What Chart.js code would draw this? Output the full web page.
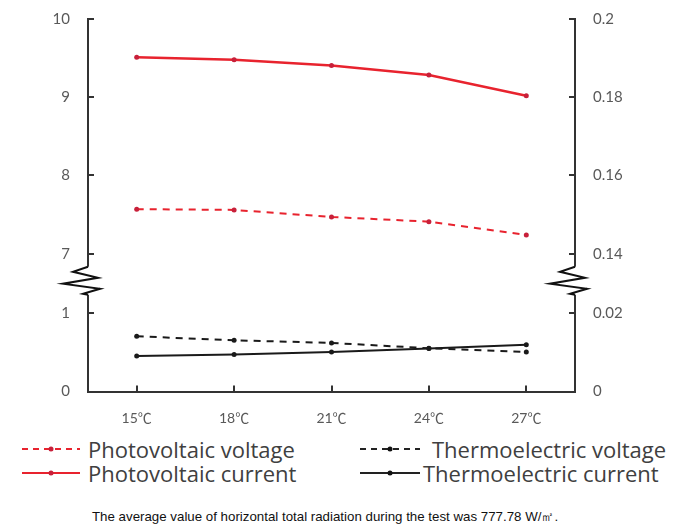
<!DOCTYPE html>
<html>
<head>
<meta charset="utf-8">
<script src="https://cdn.jsdelivr.net/npm/chart.js@4.4.0/dist/chart.umd.min.js"></script>
<style>
    body { margin: 0; background: #fff; }
    #wrap { position: relative; width: 678px; height: 525px; }
    #box { position: absolute; left: 0; top: 0; width: 678px; height: 430px; }
    .leg { position: absolute; font-family: "Open Sans", Lato, sans-serif; font-size: 22px; color: #404040; white-space: nowrap; line-height: 24px; }
    .leg svg { position: absolute; top: 7px; }
    #note { position: absolute; left: 92px; top: 508px; font-family: "Liberation Sans Narrow", "Liberation Sans", sans-serif; font-size: 13.3px; color: #111; white-space: nowrap; }
</style>
</head>
<body>
<div id="wrap">
    <div id="box"><canvas id="chart"></canvas></div>

    <div class="leg" style="left:22px; top:437px;">
        <svg width="60" height="10" style="left:0"><line x1="0" y1="5" x2="58" y2="5" stroke="#e8232e" stroke-width="2" stroke-dasharray="6 5"/><circle cx="29" cy="5" r="2.5" fill="#c8203a"/></svg>
        <span style="position:absolute; left:66px;">Photovoltaic voltage</span>
    </div>
    <div class="leg" style="left:22px; top:461px;">
        <svg width="60" height="10" style="left:0"><line x1="0" y1="5" x2="58" y2="5" stroke="#e8232e" stroke-width="2"/><circle cx="29" cy="5" r="2.5" fill="#c8203a"/></svg>
        <span style="position:absolute; left:66px;">Photovoltaic current</span>
    </div>
    <div class="leg" style="left:360px; top:437px;">
        <svg width="60" height="10" style="left:0"><line x1="0" y1="5" x2="60" y2="5" stroke="#222" stroke-width="2" stroke-dasharray="6 5"/><circle cx="30" cy="5" r="2.5" fill="#111"/></svg>
        <span style="position:absolute; left:72px;">Thermoelectric voltage</span>
    </div>
    <div class="leg" style="left:360px; top:461px;">
        <svg width="60" height="10" style="left:0"><line x1="0" y1="5" x2="60" y2="5" stroke="#222" stroke-width="2"/><circle cx="30" cy="5" r="2.5" fill="#111"/></svg>
        <span style="position:absolute; left:63px;">Thermoelectric current</span>
    </div>

    <div id="note">The average value of horizontal total radiation during the test was 777.78 W/㎡.</div>
</div>

<script>
const temps = ['15℃', '18℃', '21℃', '24℃', '27℃'];

// left axis (voltage)
const pvVoltage = [7.57, 7.56, 7.47, 7.41, 7.24];
const teVoltage = [0.707, 0.656, 0.622, 0.554, 0.507];

// right axis (current)
const pvCurrent = [0.1902, 0.1896, 0.1881, 0.1857, 0.1804];
const teCurrent = [0.0091, 0.0095, 0.0101, 0.0110, 0.0120];

// axis ranges, upper and lower part of the broken axis
const leftTop = [7, 10, 1];
const leftBottom = [0, 1, 1];
const rightTop = [0.14, 0.2, 0.02];
const rightBottom = [0, 0.02, 0.02];

const red = '#e8232e';
const redPoint = '#c8203a';
const black = '#1a1a1a';
const axisColor = '#333';
const tickFont = { family: 'Lato, "Open Sans", "Noto Sans CJK SC", sans-serif', size: 15 };

function partAxis(pos, range, weight) {
    return {
        type: 'linear',
        position: pos,
        stack: pos,
        stackWeight: weight,
        min: range[0],
        max: range[1],
        grid: { display: false },
        border: { display: true, color: axisColor, width: 2 },
        ticks: {
            stepSize: range[2],
            color: '#595959',
            font: tickFont,
            padding: 10,
            callback: function (v) { return String(Number(v.toFixed(3))); }
        },
        afterFit: function (s) { s.width = pos == 'left' ? 88 : 103; }
    };
}

function gapAxis(pos) {
    return {
        type: 'linear',
        position: pos,
        stack: pos,
        stackWeight: 60,
        grid: { display: false },
        border: { display: true, color: axisColor, width: 2 },
        ticks: { display: false },
        afterFit: function (s) { s.width = pos == 'left' ? 88 : 103; }
    };
}

const decor = {
    id: 'decor',
    afterDraw(chart) {
        const ctx = chart.ctx;
        const area = chart.chartArea;
        ctx.save();
        ctx.strokeStyle = axisColor;
        ctx.lineWidth = 2;

        // inner tick marks
        ['yLT', 'yLB', 'yRT', 'yRB'].forEach(function (id) {
            const s = chart.scales[id];
            const left = s.position == 'left';
            const x0 = left ? area.left : area.right;
            const x1 = left ? x0 + 6 : x0 - 6;
            s.ticks.forEach(function (t) {
                const y = Math.round(s.getPixelForValue(t.value));
                ctx.beginPath();
                ctx.moveTo(x0, y);
                ctx.lineTo(x1, y);
                ctx.stroke();
            });
        });
        const xs = chart.scales.x;
        temps.forEach(function (t, i) {
            const x = Math.round(xs.getPixelForValue(i));
            ctx.beginPath();
            ctx.moveTo(x, area.bottom);
            ctx.lineTo(x, area.bottom - 6);
            ctx.stroke();
        });

        // axis break marks
        const zig = [[0, 0], [-15, 5], [10, 11], [-25, 17], [12, 22], [-5, 27], [0, 28]];
        ['yLG', 'yRG'].forEach(function (id) {
            const s = chart.scales[id];
            const x = s.position == 'left' ? area.left : area.right;
            const y = s.top + 13;
            ctx.fillStyle = '#fff';
            ctx.fillRect(x - 3, y, 6, 28);
            ctx.beginPath();
            zig.forEach(function (p, k) {
                if (k == 0) ctx.moveTo(x + p[0], y + p[1]);
                else ctx.lineTo(x + p[0], y + p[1]);
            });
            ctx.strokeStyle = '#111';
            ctx.lineWidth = 2;
            ctx.stroke();
        });
        ctx.restore();
    }
};

new Chart(document.getElementById('chart'), {
    type: 'line',
    data: {
        labels: temps,
        datasets: [
            {
                label: 'Photovoltaic voltage',
                data: pvVoltage,
                yAxisID: 'yLT',
                borderColor: red,
                borderWidth: 2,
                borderDash: [7, 6],
                pointRadius: 2.5,
                pointBackgroundColor: redPoint,
                pointBorderWidth: 0
            },
            {
                label: 'Photovoltaic current',
                data: pvCurrent,
                yAxisID: 'yRT',
                borderColor: red,
                borderWidth: 2.5,
                pointRadius: 2.5,
                pointBackgroundColor: redPoint,
                pointBorderWidth: 0
            },
            {
                label: 'Thermoelectric voltage',
                data: teVoltage,
                yAxisID: 'yLB',
                borderColor: black,
                borderWidth: 2,
                borderDash: [7, 6],
                pointRadius: 2.5,
                pointBackgroundColor: black,
                pointBorderWidth: 0
            },
            {
                label: 'Thermoelectric current',
                data: teCurrent,
                yAxisID: 'yRB',
                borderColor: black,
                borderWidth: 2,
                pointRadius: 2.5,
                pointBackgroundColor: black,
                pointBorderWidth: 0
            }
        ]
    },
    options: {
        responsive: true,
        maintainAspectRatio: false,
        animation: false,
        layout: { padding: { top: 17, bottom: 0, left: 0, right: 0 } },
        plugins: { legend: { display: false }, tooltip: { enabled: false } },
        scales: {
            x: {
                type: 'category',
                offset: true,
                grid: { display: false },
                border: { display: true, color: axisColor, width: 2 },
                ticks: { color: '#595959', font: { family: tickFont.family, size: 14 }, padding: 11 },
                afterFit: function (s) { s.height = 38.5; }
            },
            // left stack listed bottom first, right stack top first
            yLB: partAxis('left', leftBottom, 78.5),
            yLG: gapAxis('left'),
            yLT: partAxis('left', leftTop, 236),
            yRT: partAxis('right', rightTop, 236),
            yRG: gapAxis('right'),
            yRB: partAxis('right', rightBottom, 78.5)
        }
    },
    plugins: [decor]
});
</script>
</body>
</html>
